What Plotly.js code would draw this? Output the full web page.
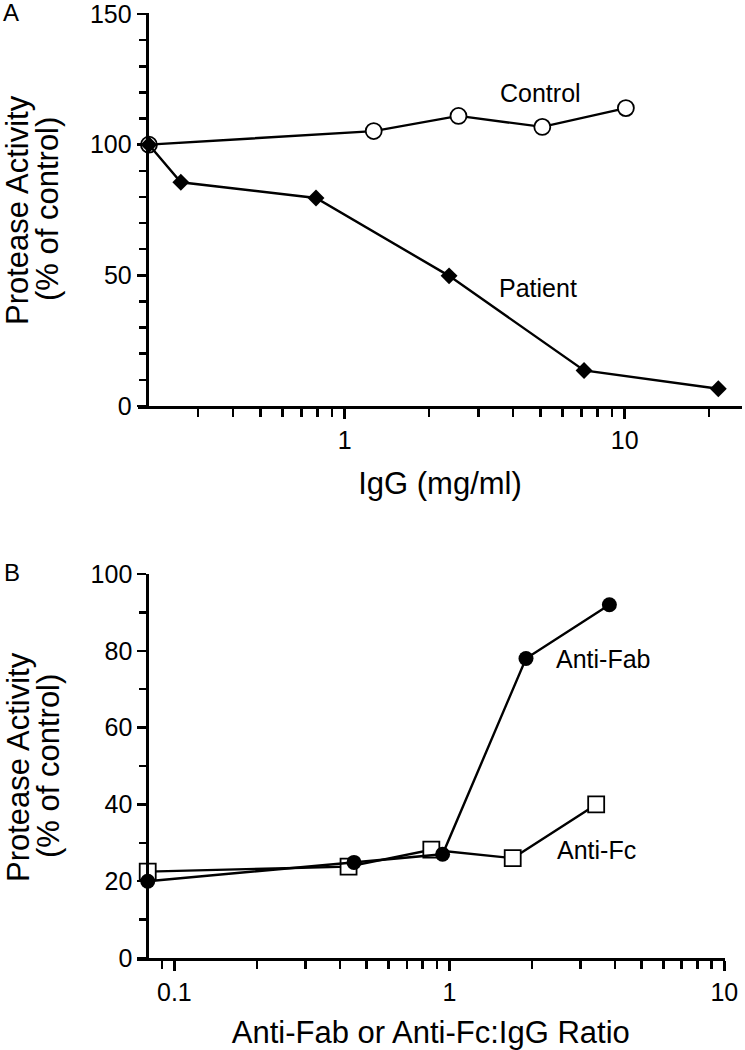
<!DOCTYPE html>
<html>
<head>
<meta charset="utf-8">
<script src="https://cdn.plot.ly/plotly-3.0.1.min.js"></script>
<style>
  html, body { margin: 0; padding: 0; background: white; }
  #chart { width: 745px; height: 1050px; }
</style>
</head>
<body>
<div id="chart"></div>
<script>
// Panel A: IgG concentration (mg/ml) vs protease activity
var igControlX = [0.2, 1.27, 2.55, 5.08, 10.1];
var igControlY = [100, 105.2, 111, 106.8, 114];
var igPatientX = [0.2, 0.26, 0.79, 2.36, 7.16, 21.6];
var igPatientY = [100, 85.6, 79.6, 49.8, 13.6, 6.6];

// Panel B: anti-Fab / anti-Fc : IgG ratio vs protease activity
var fabX = [0.08, 0.45, 0.945, 1.9, 3.82];
var fabY = [20, 24.9, 27, 78, 92];
var fcX = [0.08, 0.43, 0.86, 1.7, 3.42];
var fcY = [22.5, 23.8, 28.2, 26, 40];

// tick values / labels
var aMajorX = [1, 10];
var aMajorXText = ['1', '10'];
var aMinorX = [0.3, 0.4, 0.5, 0.6, 0.7, 0.8, 0.9, 2, 3, 4, 5, 6, 7, 8, 9, 20];
var aMajorY = [0, 50, 100, 150];
var bMajorX = [0.1, 1, 10];
var bMajorXText = ['0.1', '1', '10'];
var bMinorX = [0.09, 0.2, 0.3, 0.4, 0.5, 0.6, 0.7, 0.8, 0.9, 2, 3, 4, 5, 6, 7, 8, 9];
var bMajorY = [0, 20, 40, 60, 80, 100];

var yTitle1 = 'Protease Activity';
var yTitle2 = '(% of control)';

var W = 745, H = 1050;
function px(x) { return x / W; }
function py(y) { return 1 - y / H; }

var FONT = 'Liberation Sans, Arial, sans-serif';

var data = [
  {
    x: igControlX, y: igControlY, xaxis: 'x', yaxis: 'y',
    type: 'scatter', mode: 'lines+markers', cliponaxis: false,
    line: { color: 'black', width: 2.4 },
    marker: { symbol: 'circle', size: 16, color: 'white', line: { color: 'black', width: 1.8 } }
  },
  {
    x: igPatientX, y: igPatientY, xaxis: 'x', yaxis: 'y',
    type: 'scatter', mode: 'lines+markers', cliponaxis: false,
    line: { color: 'black', width: 2.4 },
    marker: { symbol: 'diamond', size: 13, color: 'black' }
  },
  {
    x: fcX, y: fcY, xaxis: 'x2', yaxis: 'y2',
    type: 'scatter', mode: 'lines+markers', cliponaxis: false,
    line: { color: 'black', width: 2.4 },
    marker: { symbol: 'square', size: 16, color: 'white', line: { color: 'black', width: 1.8 } }
  },
  {
    x: fabX, y: fabY, xaxis: 'x2', yaxis: 'y2',
    type: 'scatter', mode: 'lines+markers', cliponaxis: false,
    line: { color: 'black', width: 2.4 },
    marker: { symbol: 'circle', size: 15, color: 'black' }
  }
];

function xAxis(domain, range, vals, text, minorVals, title, anchor) {
  return {
    type: 'log', domain: domain, range: range, anchor: anchor,
    showline: true, linecolor: 'black', linewidth: 3,
    showgrid: false, zeroline: false,
    ticks: 'outside', ticklen: 10, tickwidth: 2.5, tickcolor: 'black',
    tickmode: 'array', tickvals: vals, ticktext: text, ticklabeloverflow: 'allow',
    tickfont: { family: FONT, size: 25, color: 'black' },
    minor: { tickmode: 'array', tickvals: minorVals, ticks: 'outside', ticklen: 8, tickwidth: 2.5, tickcolor: 'black', showgrid: false },
    title: { text: title, font: { family: FONT, size: 31, color: 'black' }, standoff: 20 },
    fixedrange: true
  };
}

function yAxis(domain, range, vals, minorStep, pos) {
  return {
    domain: domain, range: range, anchor: 'free', position: pos,
    showline: true, linecolor: 'black', linewidth: 3,
    showgrid: false, zeroline: false,
    ticks: 'outside', ticklen: 9, tickwidth: 2.5, tickcolor: 'black',
    tickmode: 'array', tickvals: vals, ticklabeloverflow: 'allow',
    tickfont: { family: FONT, size: 25, color: 'black' },
    minor: { dtick: minorStep, ticks: 'outside', ticklen: 7, tickwidth: 2.5, tickcolor: 'black', showgrid: false },
    fixedrange: true
  };
}

function label(text, x, y, size, angle) {
  return {
    xref: 'paper', yref: 'paper', x: px(x), y: py(y),
    xanchor: 'center', yanchor: 'middle', showarrow: false,
    textangle: angle || 0, borderpad: 0,
    text: text, font: { family: FONT, size: size, color: 'black' }
  };
}

var layout = {
  width: W, height: H,
  margin: { l: 0, r: 0, t: 0, b: 0 },
  paper_bgcolor: 'white', plot_bgcolor: 'white',
  showlegend: false,
  xaxis: xAxis([px(138), px(742)], [-0.738, 1.419], aMajorX, aMajorXText, aMinorX, 'IgG (mg/ml)', 'y'),
  yaxis: yAxis([py(406), py(12.7)], [0, 150.5], aMajorY, 10, px(146.7)),
  xaxis2: xAxis([px(136.7), px(725)], [-1.137, 1.0025], bMajorX, bMajorXText, bMinorX, 'Anti-Fab or Anti-Fc:IgG Ratio', 'y2'),
  yaxis2: yAxis([py(958), py(574)], [0, 100], bMajorY, 10, px(147.3)),
  annotations: [
    label('A', 11, 12.5, 24),
    label('B', 12, 572.5, 24),
    label(yTitle1, 18, 210, 31, -90),
    label(yTitle2, 48, 209, 31, -90),
    label(yTitle1, 18, 767, 31, -90),
    label(yTitle2, 48, 766, 31, -90),
    label('Control', 540, 93, 25),
    label('Patient', 538, 288, 25),
    label('Anti-Fab', 603, 659, 25),
    label('Anti-Fc', 596, 850, 25)
  ]
};

Plotly.newPlot('chart', data, layout, { staticPlot: true });
</script>
</body>
</html>
